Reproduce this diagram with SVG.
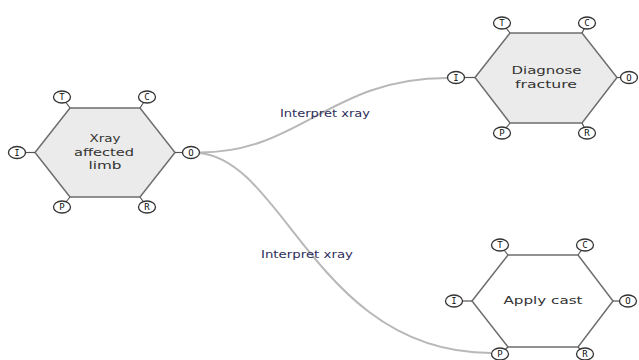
<svg xmlns="http://www.w3.org/2000/svg" width="639" height="360" viewBox="0 0 639 360">
<style>
.hex{stroke:#6e6e6e;stroke-width:1.5}
.g{fill:#ebebeb}
.w{fill:#ffffff}
.pl{stroke:#555;stroke-width:1.2}
.port{fill:#fff;stroke:#333;stroke-width:1.3}
.pt{font-family:"DejaVu Sans Mono",monospace;font-size:9px;fill:#111;text-anchor:middle;dominant-baseline:central}
.nt{font-family:"DejaVu Sans",sans-serif;font-size:10px;fill:#333;text-anchor:middle}
.conn{fill:none;stroke:#b8b8b8;stroke-width:2}
.lbl{font-family:"DejaVu Sans",sans-serif;font-size:10px;fill:#2e2e5c;text-anchor:middle}
</style>
<rect width="639" height="360" fill="#fff"/>
<g id="connectors">
<path class="conn" d="M199,152.5 C300,153 330,78 447,78"/>
<path class="conn" d="M199,153 C285,160 318,353 491,353"/>
<text class="lbl" x="325" y="117" textLength="90" lengthAdjust="spacingAndGlyphs">Interpret xray</text>
<text class="lbl" x="307" y="258" textLength="92" lengthAdjust="spacingAndGlyphs">Interpret xray</text>
</g>
<g id="xray">
<polygon class="hex g" points="35,152.5 70,108 140,108 175,152.5 140,197 70,197"/>
<line class="pl" x1="62" y1="97" x2="70" y2="108"/>
<line class="pl" x1="147" y1="97" x2="140" y2="108"/>
<line class="pl" x1="17" y1="152.5" x2="35" y2="152.5"/>
<line class="pl" x1="191" y1="152.5" x2="175" y2="152.5"/>
<line class="pl" x1="62" y1="207" x2="70" y2="197"/>
<line class="pl" x1="147" y1="207" x2="140" y2="197"/>
<ellipse class="port" cx="62" cy="97" rx="8.5" ry="6"/><text class="pt" x="62" y="97">T</text>
<ellipse class="port" cx="147" cy="97" rx="8.5" ry="6"/><text class="pt" x="147" y="97">C</text>
<ellipse class="port" cx="17" cy="152.5" rx="8.5" ry="6"/><text class="pt" x="17" y="152.5">I</text>
<ellipse class="port" cx="191" cy="152.5" rx="8.5" ry="6"/><text class="pt" x="191" y="152.5">O</text>
<ellipse class="port" cx="62" cy="207" rx="8.5" ry="6"/><text class="pt" x="62" y="207">P</text>
<ellipse class="port" cx="147" cy="207" rx="8.5" ry="6"/><text class="pt" x="147" y="207">R</text>
<text class="nt" x="105" y="142" textLength="31" lengthAdjust="spacingAndGlyphs">Xray</text>
<text class="nt" x="104" y="156" textLength="60" lengthAdjust="spacingAndGlyphs">affected</text>
<text class="nt" x="105" y="169" textLength="33" lengthAdjust="spacingAndGlyphs">limb</text>
</g>
<g id="diagnose">
<polygon class="hex g" points="475,77.5 510,33 582,33 617,77.5 582,123 510,123"/>
<line class="pl" x1="502" y1="23" x2="510" y2="33"/>
<line class="pl" x1="587" y1="23" x2="582" y2="33"/>
<line class="pl" x1="456" y1="77.5" x2="475" y2="77.5"/>
<line class="pl" x1="629" y1="77.5" x2="617" y2="77.5"/>
<line class="pl" x1="502" y1="133" x2="510" y2="123"/>
<line class="pl" x1="587" y1="133" x2="582" y2="123"/>
<ellipse class="port" cx="502" cy="23" rx="8.5" ry="6"/><text class="pt" x="502" y="23">T</text>
<ellipse class="port" cx="587" cy="23" rx="8.5" ry="6"/><text class="pt" x="587" y="23">C</text>
<ellipse class="port" cx="456" cy="77.5" rx="8.5" ry="6"/><text class="pt" x="456" y="77.5">I</text>
<ellipse class="port" cx="629" cy="77.5" rx="8.5" ry="6"/><text class="pt" x="629" y="77.5">O</text>
<ellipse class="port" cx="502" cy="133" rx="8.5" ry="6"/><text class="pt" x="502" y="133">P</text>
<ellipse class="port" cx="587" cy="133" rx="8.5" ry="6"/><text class="pt" x="587" y="133">R</text>
<text class="nt" x="546.5" y="74" textLength="70" lengthAdjust="spacingAndGlyphs">Diagnose</text>
<text class="nt" x="546" y="87.5" textLength="62" lengthAdjust="spacingAndGlyphs">fracture</text>
</g>
<g id="cast">
<polygon class="hex w" points="472,301 508,255 578,255 613,301 578,347 508,347"/>
<line class="pl" x1="500" y1="245" x2="508" y2="255"/>
<line class="pl" x1="585" y1="245" x2="578" y2="255"/>
<line class="pl" x1="454" y1="301" x2="472" y2="301"/>
<line class="pl" x1="628" y1="301" x2="613" y2="301"/>
<line class="pl" x1="500" y1="354" x2="508" y2="347"/>
<line class="pl" x1="585" y1="354" x2="578" y2="347"/>
<ellipse class="port" cx="500" cy="245" rx="8.5" ry="6"/><text class="pt" x="500" y="245">T</text>
<ellipse class="port" cx="585" cy="245" rx="8.5" ry="6"/><text class="pt" x="585" y="245">C</text>
<ellipse class="port" cx="454" cy="301" rx="8.5" ry="6"/><text class="pt" x="454" y="301">I</text>
<ellipse class="port" cx="628" cy="301" rx="8.5" ry="6"/><text class="pt" x="628" y="301">O</text>
<ellipse class="port" cx="500" cy="354" rx="8.5" ry="6"/><text class="pt" x="500" y="354">P</text>
<ellipse class="port" cx="585" cy="354" rx="8.5" ry="6"/><text class="pt" x="585" y="354">R</text>
<text class="nt" x="543" y="303.5" textLength="79" lengthAdjust="spacingAndGlyphs">Apply cast</text>
</g>
</svg>
